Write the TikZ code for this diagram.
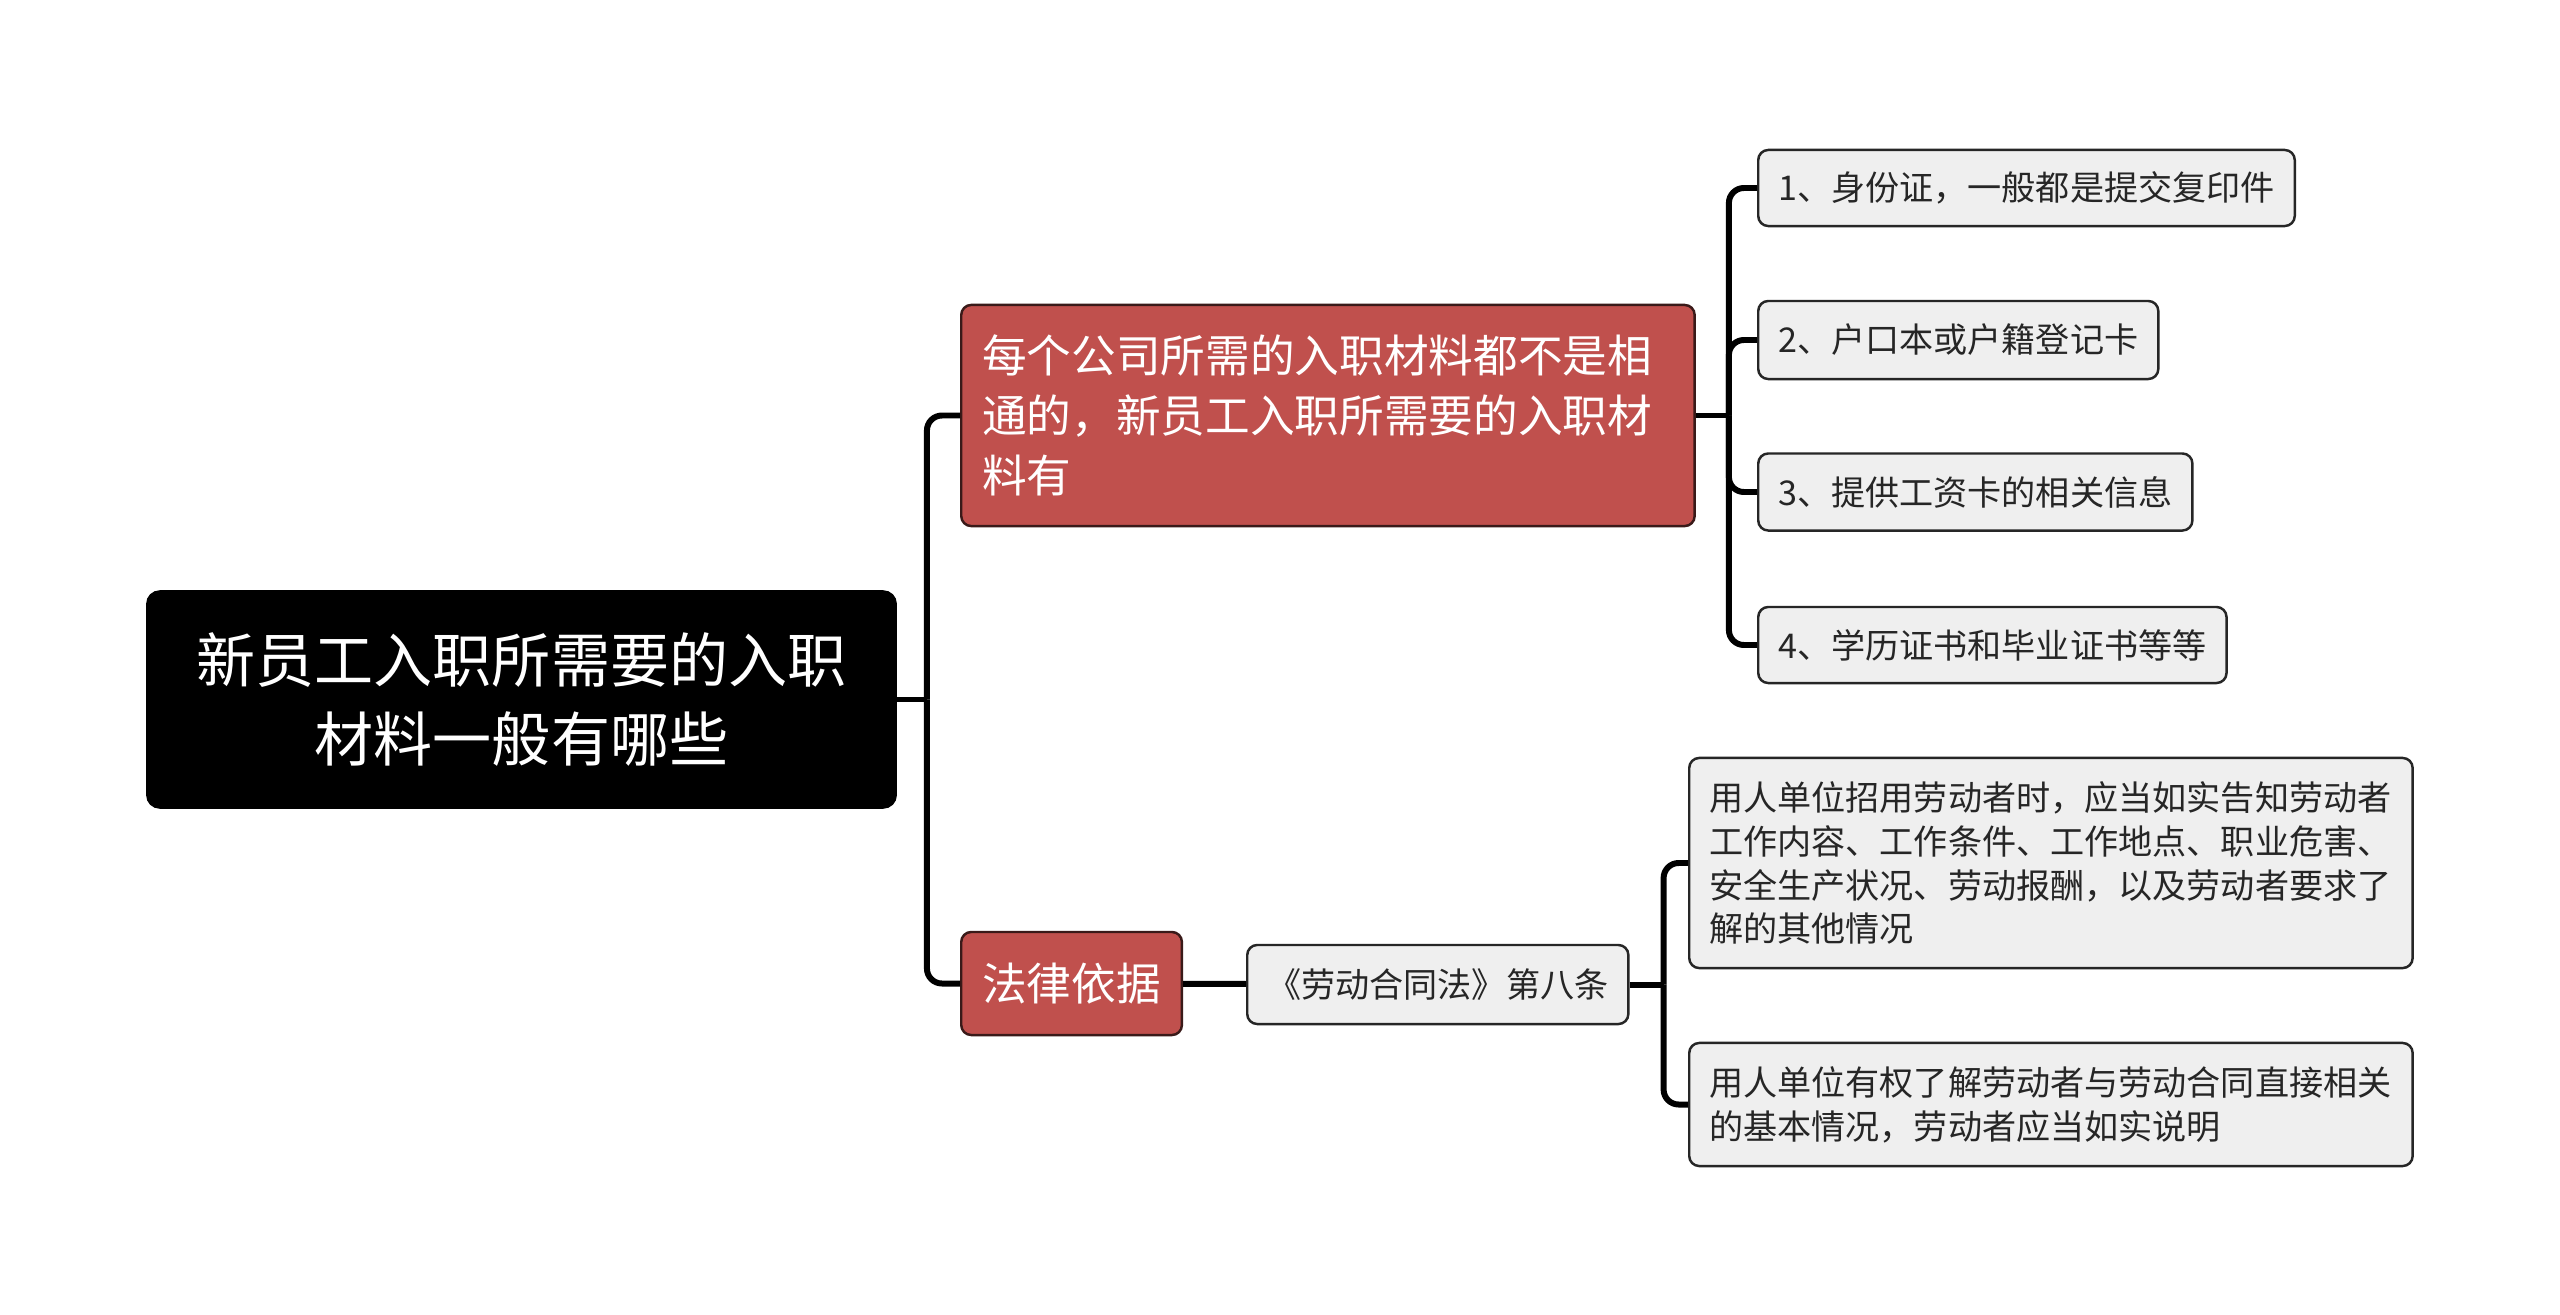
\documentclass[tikz,border=0pt]{standalone}
\usepackage{fontspec}
\setmainfont{Noto Sans CJK SC}
\usepackage{tikz}
\definecolor{rootfill}{HTML}{000000}
\definecolor{topicfill}{HTML}{C0504D}
\definecolor{topicline}{HTML}{3A1A19}
\definecolor{itemfill}{HTML}{EFEFEF}
\definecolor{itemline}{HTML}{262626}
\definecolor{itemtext}{HTML}{262626}
\definecolor{linkline}{HTML}{000000}
\tikzset{
  rootbox/.style={fill=rootfill, draw=rootfill, text=white, rounded corners=0.13cm,
                  minimum width=7.49cm, minimum height=2.17cm, inner sep=0pt,
                  align=center, font=\fontsize{16.8}{22.2}\selectfont},
  topicbox/.style={fill=topicfill, draw=topicline, text=white, rounded corners=0.1cm,
                   inner xsep=0.21cm, inner ysep=0pt, anchor=west, align=left,
                   line width=0.7pt, font=\fontsize{12.7}{17}\selectfont},
  itembox/.style={fill=itemfill, draw=itemline, text=itemtext, rounded corners=0.1cm,
                  inner xsep=0.2cm, inner ysep=0pt, anchor=west, align=left,
                  line width=0.7pt, font=\fontsize{9.7}{12.5}\selectfont},
  link/.style={draw=linkline, line width=1.7pt, rounded corners=0.15cm},
}
\begin{document}
\begin{tikzpicture}[x=0.01cm, y=-0.01cm]
      % ----------------------- BEGIN PICTURE BLOCK ---------------------------
      \fill[white] (0,0) rectangle (2560,1315);
      \useasboundingbox (0,0) rectangle (2560,1315);

      % --- root ---
      \node[rootbox] (root) at (521.5,699.5) {新员工入职所需要的入职\\材料一般有哪些};

      % --- main topics ---
      \node[topicbox, text width=6.91cm, minimum height=2.21cm] (needs) at (960,415.5)
        {每个公司所需的入职材料都不是相\\通的，新员工入职所需要的入职材\\料有};
      \node[topicbox, minimum height=1.03cm] (law) at (960,983.5) {法律依据};

      % --- materials ---
      \node[itembox, minimum height=0.76cm] (item1) at (1757,188) {1、身份证，一般都是提交复印件};
      \node[itembox, minimum height=0.78cm] (item2) at (1757,340) {2、户口本或户籍登记卡};
      \node[itembox, minimum height=0.77cm] (item3) at (1757,492) {3、提供工资卡的相关信息};
      \node[itembox, minimum height=0.76cm] (item4) at (1757,645) {4、学历证书和毕业证书等等};

      % --- legal basis ---
      \node[itembox, minimum height=0.79cm] (article) at (1246,984.5) {《劳动合同法》第八条};
      \node[itembox, text width=6.83cm, minimum height=2.10cm] (duty) at (1688,863)
        {用人单位招用劳动者时，应当如实告知劳动者\\工作内容、工作条件、工作地点、职业危害、\\安全生产状况、劳动报酬，以及劳动者要求了\\解的其他情况};
      \node[itembox, text width=6.83cm, minimum height=1.23cm] (inquiry) at (1688,1104.5)
        {用人单位有权了解劳动者与劳动合同直接相关\\的基本情况，劳动者应当如实说明};

      % --- connectors ---
      \draw[link] (root.east) -- ++(30,0) coordinate (rootfork);
      \draw[link] (rootfork) |- (needs.west);
      \draw[link] (rootfork) |- (law.west);
      \draw[link] (needs.east) -- ++(33,0) coordinate (needsfork);
      \foreach \i in {1,...,4}
        \draw[link] (needsfork) |- (item\i.west);
      \draw[link] (law) -- (article);
      \draw[link] (article.east) -- ++(34,0) coordinate (articlefork);
      \draw[link] (articlefork) |- (duty.west);
      \draw[link] (articlefork) |- (inquiry.west);
    % --------------------- END PICTURE BLOCK -----------------------------
\end{tikzpicture}
\end{document}
